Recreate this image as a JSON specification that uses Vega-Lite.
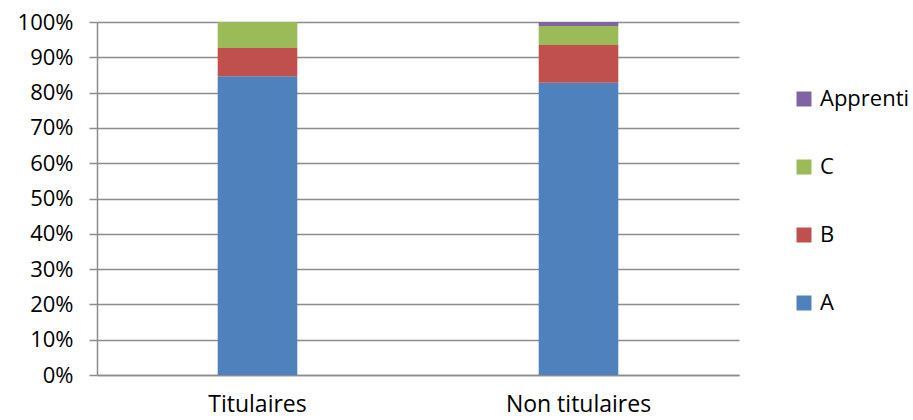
{
  "$schema": "https://vega.github.io/schema/vega-lite/v6.json",
  "width": 642,
  "height": 353,
  "autosize": {"type": "none"},
  "padding": {"left": 97, "top": 22, "right": 174, "bottom": 45},
  "background": "white",
  "config": {
    "view": {"stroke": null},
    "font": "Open Sans",
    "axis": {"labelFont": "Open Sans", "labelColor": "#000000"},
    "legend": {"labelFont": "Open Sans", "labelColor": "#000000"}
  },
  "data": {
    "values": [
      {"statut": "Titulaires", "cat": "A", "val": 0.846, "ord": 1},
      {"statut": "Titulaires", "cat": "B", "val": 0.080, "ord": 2},
      {"statut": "Titulaires", "cat": "C", "val": 0.074, "ord": 3},
      {"statut": "Titulaires", "cat": "Apprenti", "val": 0.0, "ord": 4},
      {"statut": "Non titulaires", "cat": "A", "val": 0.828, "ord": 1},
      {"statut": "Non titulaires", "cat": "B", "val": 0.107, "ord": 2},
      {"statut": "Non titulaires", "cat": "C", "val": 0.054, "ord": 3},
      {"statut": "Non titulaires", "cat": "Apprenti", "val": 0.011, "ord": 4}
    ]
  },
  "mark": {"type": "bar"},
  "encoding": {
    "x": {
      "field": "statut",
      "type": "nominal",
      "sort": ["Titulaires", "Non titulaires"],
      "scale": {"paddingInner": 0.752, "paddingOuter": 0.376},
      "axis": {
        "title": null,
        "labelAngle": 0,
        "labelFontSize": 23,
        "labelPadding": 18,
        "ticks": false,
        "domainColor": "#8c8c8c",
        "domainWidth": 1.5
      }
    },
    "y": {
      "field": "val",
      "type": "quantitative",
      "stack": "zero",
      "scale": {"domain": [0, 1], "nice": false},
      "axis": {
        "title": null,
        "format": ".0%",
        "values": [0, 0.1, 0.2, 0.3, 0.4, 0.5, 0.6, 0.7, 0.8, 0.9, 1],
        "labelFontSize": 22,
        "labelPadding": 16,
        "tickSize": 8,
        "tickColor": "#8c8c8c",
        "tickWidth": 1.5,
        "domainColor": "#8c8c8c",
        "domainWidth": 1.5,
        "gridColor": "#8c8c8c",
        "gridWidth": 1.5
      }
    },
    "color": {
      "field": "cat",
      "type": "nominal",
      "scale": {
        "domain": ["Apprenti", "C", "B", "A"],
        "range": ["#8064A2", "#9BBB59", "#C0504D", "#4F81BD"]
      },
      "legend": {
        "title": null,
        "orient": "none",
        "legendX": 696,
        "legendY": 66,
        "symbolType": "square",
        "symbolSize": 225,
        "symbolStrokeWidth": 0,
        "labelFontSize": 22,
        "labelOffset": 5,
        "rowPadding": 46
      }
    },
    "order": {"field": "ord", "type": "quantitative", "sort": "ascending"}
  }
}
